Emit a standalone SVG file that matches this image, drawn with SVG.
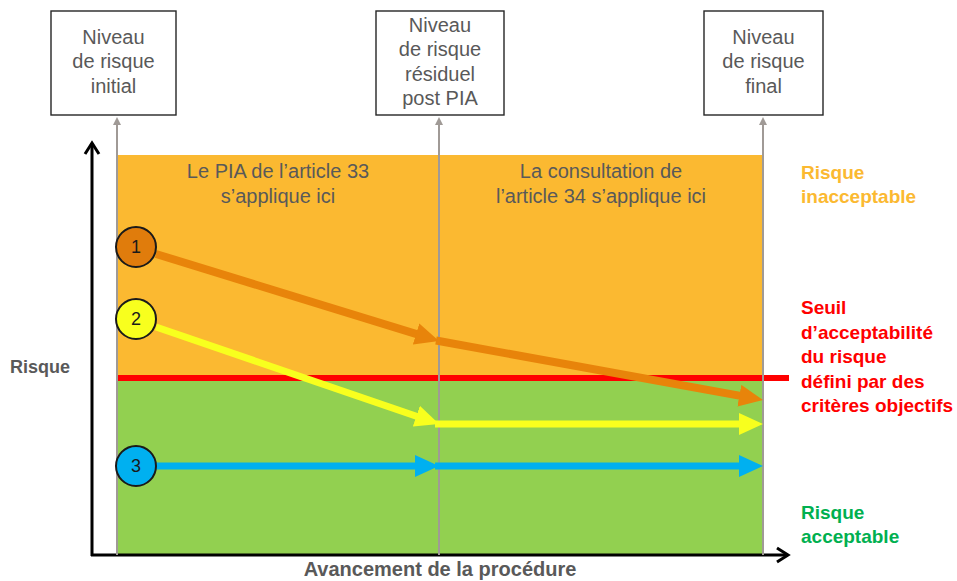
<svg xmlns="http://www.w3.org/2000/svg" width="957" height="581" viewBox="0 0 957 581">
<style>
  text { font-family: "Liberation Sans", Arial, sans-serif; }
  .box { fill: #ffffff; stroke: #262626; stroke-width: 1.4; }
  .bt { font-size: 20px; fill: #595959; text-anchor: middle; }
  .zt { font-size: 20px; fill: #595959; text-anchor: middle; }
  .lbl { font-size: 18px; font-weight: bold; }
  .xl { font-size: 20px; font-weight: bold; }
  .rl { font-size: 19px; font-weight: bold; }
  .guide { stroke: #a09a96; stroke-width: 2; fill: none; }
  .axis { stroke: #000000; stroke-width: 3; fill: none; }
  .circ { stroke: #1a1a1a; stroke-width: 2; }
  .num { font-size: 18px; fill: #1a1a1a; text-anchor: middle; }
</style>
<defs>
  <marker id="mOr" markerUnits="userSpaceOnUse" markerWidth="24" markerHeight="22" viewBox="0 0 24 22" refX="4" refY="11" orient="auto">
    <path d="M0,0 L24,11 L0,22 z" fill="#e8840a"/>
  </marker>
  <marker id="mYe" markerUnits="userSpaceOnUse" markerWidth="24" markerHeight="22" viewBox="0 0 24 22" refX="4" refY="11" orient="auto">
    <path d="M0,0 L24,11 L0,22 z" fill="#f8ff1e"/>
  </marker>
  <marker id="mBl" markerUnits="userSpaceOnUse" markerWidth="24" markerHeight="22" viewBox="0 0 24 22" refX="4" refY="11" orient="auto">
    <path d="M0,0 L24,11 L0,22 z" fill="#00b0f0"/>
  </marker>
  <marker id="mGr" markerUnits="userSpaceOnUse" markerWidth="8" markerHeight="8" viewBox="0 0 8 8" refX="1" refY="4" orient="auto">
    <path d="M0,0 L8,4 L0,8 z" fill="#a09a96"/>
  </marker>
</defs>

<g id="zones">
  <rect x="117" y="155" width="646" height="222" fill="#fbb931"/>
  <rect x="117" y="379" width="646" height="176" fill="#92d050"/>
  <text class="zt" x="278" y="178">Le PIA de l’article 33</text>
  <text class="zt" x="278" y="203">s’applique ici</text>
  <text class="zt" x="601" y="178">La consultation de</text>
  <text class="zt" x="601" y="203">l’article 34 s’applique ici</text>
</g>

<g id="threshold">
  <line x1="117" y1="378" x2="789" y2="378" stroke="#ff0000" stroke-width="6"/>
</g>

<g id="axes">
  <line class="axis" x1="92" y1="556" x2="92" y2="143"/>
  <polyline class="axis" points="85,154 92,143 99,154"/>
  <line class="axis" x1="91" y1="555" x2="788" y2="555"/>
  <polyline class="axis" points="777,548 788,555 777,562"/>
  <text class="lbl" x="10" y="373" fill="#595959">Risque</text>
  <text class="xl" x="440" y="576" fill="#595959" text-anchor="middle">Avancement de la procédure</text>
</g>

<g id="connectors">
  <line class="guide" x1="117" y1="555" x2="117" y2="124" marker-end="url(#mGr)"/>
  <line class="guide" x1="439" y1="555" x2="439" y2="124" marker-end="url(#mGr)"/>
  <line class="guide" x1="763" y1="555" x2="763" y2="124" marker-end="url(#mGr)"/>
  <line x1="156" y1="254" x2="419.9" y2="335.1" stroke="#e8840a" stroke-width="8" marker-end="url(#mOr)"/>
  <line x1="436" y1="340.5" x2="743.3" y2="396.4" stroke="#e8840a" stroke-width="8" marker-end="url(#mOr)"/>
  <line x1="156" y1="327" x2="420.1" y2="417.5" stroke="#f8ff1e" stroke-width="7" marker-end="url(#mYe)"/>
  <line x1="435" y1="424" x2="743" y2="424" stroke="#f8ff1e" stroke-width="7" marker-end="url(#mYe)"/>
  <line x1="156" y1="466" x2="419" y2="466" stroke="#00b0f0" stroke-width="7" marker-end="url(#mBl)"/>
  <line x1="435" y1="466" x2="743" y2="466" stroke="#00b0f0" stroke-width="7" marker-end="url(#mBl)"/>
</g>

<g id="box-initial">
  <rect class="box" x="51" y="11" width="125" height="104"/>
  <text class="bt" x="113.5" y="44">Niveau</text>
  <text class="bt" x="113.5" y="68">de risque</text>
  <text class="bt" x="113.5" y="93">initial</text>
</g>
<g id="box-residuel">
  <rect class="box" x="376" y="11" width="128" height="104"/>
  <text class="bt" x="440" y="32">Niveau</text>
  <text class="bt" x="440" y="56">de risque</text>
  <text class="bt" x="440" y="81">résiduel</text>
  <text class="bt" x="440" y="105">post PIA</text>
</g>
<g id="box-final">
  <rect class="box" x="704" y="11" width="119" height="104"/>
  <text class="bt" x="763.5" y="44">Niveau</text>
  <text class="bt" x="763.5" y="68">de risque</text>
  <text class="bt" x="763.5" y="93">final</text>
</g>

<g id="circle-1">
  <circle class="circ" cx="136" cy="247" r="20" fill="#e07c0c"/>
  <text class="num" x="136" y="253">1</text>
</g>
<g id="circle-2">
  <circle class="circ" cx="136" cy="319" r="20" fill="#f8ff1e"/>
  <text class="num" x="136" y="325">2</text>
</g>
<g id="circle-3">
  <circle class="circ" cx="136" cy="466" r="20" fill="#00b0f0"/>
  <text class="num" x="136" y="472">3</text>
</g>

<g id="label-inacceptable">
  <text class="rl" x="801" y="179" fill="#fbb931">Risque</text>
  <text class="rl" x="801" y="203" fill="#fbb931">inacceptable</text>
</g>
<g id="label-seuil">
  <text class="rl" x="801" y="314" fill="#ff0000">Seuil</text>
  <text class="rl" x="801" y="339" fill="#ff0000">d’acceptabilité</text>
  <text class="rl" x="801" y="363" fill="#ff0000">du risque</text>
  <text class="rl" x="801" y="388" fill="#ff0000">défini par des</text>
  <text class="rl" x="801" y="412" fill="#ff0000">critères objectifs</text>
</g>
<g id="label-acceptable">
  <text class="rl" x="801" y="519" fill="#00b050">Risque</text>
  <text class="rl" x="801" y="543" fill="#00b050">acceptable</text>
</g>
</svg>
